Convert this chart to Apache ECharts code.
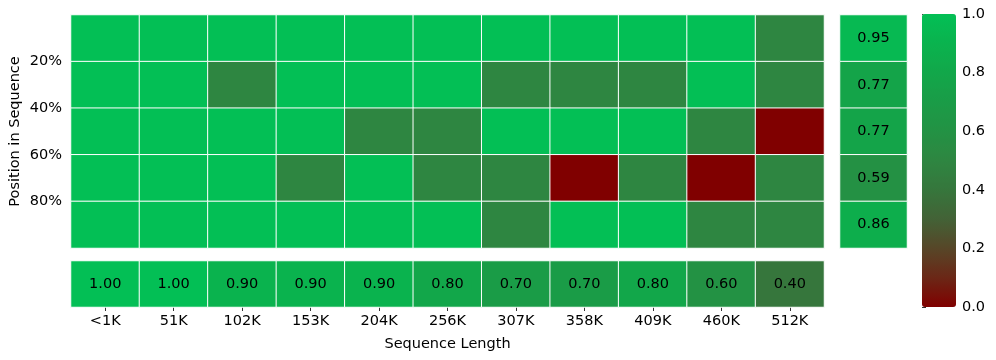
<!DOCTYPE html>
<html>
<head>
<meta charset="utf-8">
<script src="https://cdn.jsdelivr.net/npm/echarts@6/dist/echarts.min.js"></script>
<style>
  html, body { margin: 0; padding: 0; background: #fff; }
  #chart { width: 996px; height: 360px; }
</style>
</head>
<body>
<div id="chart"></div>
<script>
// 数据
var lengthLabels = ['<1K', '51K', '102K', '153K', '204K', '256K', '307K', '358K', '409K', '460K', '512K'];
var posTickLabels = ['', '20%', '40%', '60%', '80%', ''];
var rowNames = ['0-20%', '20-40%', '40-60%', '60-80%', '80-100%'];
var row1 = [1, 1, 1, 1, 1, 1, 1, 1, 1, 1, 0.5];
var row2 = [1, 1, 0.5, 1, 1, 1, 0.5, 0.5, 0.5, 1, 0.5];
var row3 = [1, 1, 1, 1, 0.5, 0.5, 1, 1, 1, 0.5, 0];
var row4 = [1, 1, 1, 0.5, 1, 0.5, 0.5, 0, 0.5, 0, 0.5];
var row5 = [1, 1, 1, 1, 1, 1, 0.5, 1, 1, 0.5, 0.5];
var colMeans = [1.00, 1.00, 0.90, 0.90, 0.90, 0.80, 0.70, 0.70, 0.80, 0.60, 0.40];
var rowMeans = [0.95, 0.77, 0.77, 0.59, 0.86];
var cbarTicks = [0, 0.2, 0.4, 0.6, 0.8, 1.0];

var rows = [row1, row2, row3, row4, row5];
var mainData = [];
rows.forEach(function (r, yi) {
    r.forEach(function (v, xi) { mainData.push([xi, yi, v]); });
});
var bottomData = colMeans.map(function (v, i) { return [i, 0, v]; });
var rightData = rowMeans.map(function (v, i) { return [0, i, v]; });

var font = 'DejaVu Sans';
var fs = 14.5;
var cellStyle = { borderColor: '#ffffff', borderWidth: 1 };
var cellLabel = {
    show: true, color: '#000', fontFamily: font, fontSize: fs,
    formatter: function (p) { return p.data[2].toFixed(2); }
};

var myChart = echarts.init(document.getElementById('chart'));
var option = {
    animation: false,
    backgroundColor: '#fff',
    grid: [
        { left: 71, top: 15, width: 753, height: 233, outerBoundsMode: 'none' },
        { left: 71, top: 261, width: 753, height: 46, outerBoundsMode: 'none' },
        { left: 840, top: 15, width: 67, height: 233, outerBoundsMode: 'none' },
        { left: 922, top: 14, width: 34, height: 293, outerBoundsMode: 'none' }
    ],
    xAxis: [
        { gridIndex: 0, type: 'category', data: lengthLabels, show: false },
        {
            gridIndex: 1, type: 'category', data: lengthLabels,
            axisLine: { show: false },
            axisTick: { show: true, alignWithLabel: true, length: 4, lineStyle: { color: '#333' } },
            axisLabel: { color: '#000', fontFamily: font, fontSize: fs, margin: 7 },
            name: 'Sequence Length', nameLocation: 'middle', nameGap: 30, nameMoveOverlap: false,
            nameTextStyle: { color: '#000', fontFamily: font, fontSize: fs }
        },
        { gridIndex: 2, type: 'category', data: ['avg'], show: false },
        { gridIndex: 3, type: 'value', show: false }
    ],
    yAxis: [
        { gridIndex: 0, type: 'category', data: rowNames, inverse: true, show: false },
        {
            gridIndex: 0, type: 'value', position: 'left', min: 0, max: 100, interval: 20, inverse: true,
            axisLine: { show: false }, axisTick: { show: false }, splitLine: { show: false },
            axisLabel: {
                color: '#000', fontFamily: font, fontSize: fs, margin: 9,
                formatter: function (v) { return posTickLabels[Math.round(v / 20)]; }
            },
            name: 'Position in Sequence', nameLocation: 'middle', nameGap: 48, nameRotate: 90,
            nameMoveOverlap: false,
            nameTextStyle: { color: '#000', fontFamily: font, fontSize: fs }
        },
        { gridIndex: 1, type: 'category', data: ['mean'], show: false },
        { gridIndex: 2, type: 'category', data: rowNames, inverse: true, show: false },
        {
            gridIndex: 3, type: 'value', position: 'right', min: 0, max: 1, interval: 0.2,
            axisLine: { show: false }, splitLine: { show: false },
            axisTick: { show: true, length: 4, lineStyle: { color: '#333' } },
            axisLabel: {
                color: '#000', fontFamily: font, fontSize: fs, margin: 6,
                customValues: cbarTicks,
                formatter: function (v) { return v.toFixed(1); }
            }
        }
    ],
    visualMap: {
        type: 'continuous',
        min: 0, max: 1,
        seriesIndex: [0, 1, 2],
        calculable: false,
        hoverLink: false,
        indicatorSize: 0,
        orient: 'vertical',
        left: 922, top: 14,
        itemWidth: 34, itemHeight: 293,
        padding: 0,
        inRange: {
            color: ['#800000', '#6b2716', '#574628', '#436236', '#36763c', '#2e8641',
                    '#239244', '#1a9c47', '#12a74a', '#0ab34e', '#03bf55']
        }
    },
    series: [
        {
            type: 'heatmap', xAxisIndex: 0, yAxisIndex: 0, data: mainData,
            itemStyle: cellStyle, emphasis: { disabled: true }
        },
        {
            type: 'heatmap', xAxisIndex: 1, yAxisIndex: 2, data: bottomData,
            itemStyle: cellStyle, label: cellLabel, emphasis: { disabled: true }
        },
        {
            type: 'heatmap', xAxisIndex: 2, yAxisIndex: 3, data: rightData,
            itemStyle: cellStyle, label: cellLabel, emphasis: { disabled: true }
        }
    ]
};
myChart.setOption(option);
</script>
</body>
</html>
